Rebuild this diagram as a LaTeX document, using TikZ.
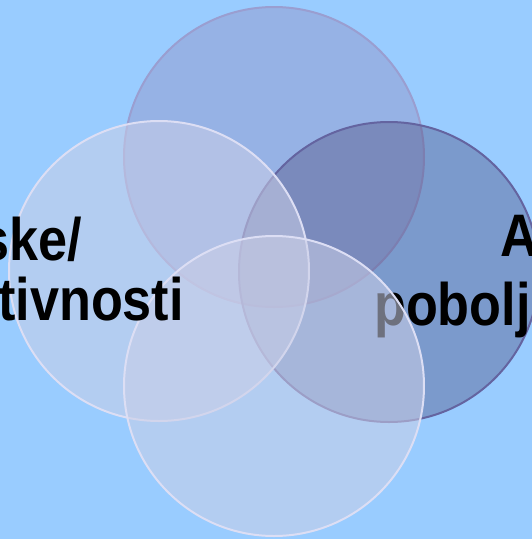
\documentclass[tikz,border=0pt]{standalone}
\usepackage{fontspec}
\setmainfont{Liberation Sans}
\definecolor{skyback}{HTML}{99CCFF}
\definecolor{topfill}{HTML}{96B2E5}
\definecolor{topline}{HTML}{9A9ED0}
\definecolor{rightfill}{HTML}{504F80}
\definecolor{rightline}{HTML}{6464A0}
\definecolor{paleFill}{HTML}{CACEE7}
\definecolor{paleline}{HTML}{DCDEF4}
\newcommand{\narrowtext}[1]{\scalebox{0.87}[1]{#1}}
\tikzset{
  ring/.style={circle, inner sep=0pt, minimum size=300pt, line width=2pt},
  label/.style={font=\bfseries\fontsize{60}{64}\selectfont, inner sep=0pt, text=black}
}
\begin{document}
\begin{tikzpicture}[x=1pt,y=-1pt]
\fill[skyback] (0,0) rectangle (532,539);
\useasboundingbox (0,0) rectangle (532,539);
\clip (0,0) rectangle (532,539);
\node[ring, fill=topfill, draw=topline] (top) at (274,157) {};
\node[ring, fill=rightfill, fill opacity=.4, draw=rightline] (right) at (389,272) {};
\node[ring, fill=paleFill, fill opacity=.55, draw=paleline] (left) at (159,271) {};
\node[label, anchor=base west] (rtop) at (500,256) {\narrowtext{A}};
\node[label, anchor=base west] (rbot) at (374,325) {\narrowtext{poboljš}};
\node[ring, fill=paleFill, fill opacity=.55, draw=paleline] (bottom) at (274,386) {};
\node[label, anchor=base east] (ltop) at (82,260) {\narrowtext{ske/}};
\node[label, anchor=base east] (lbot) at (184,320) {\narrowtext{tivnosti}};
\end{tikzpicture}
\end{document}
